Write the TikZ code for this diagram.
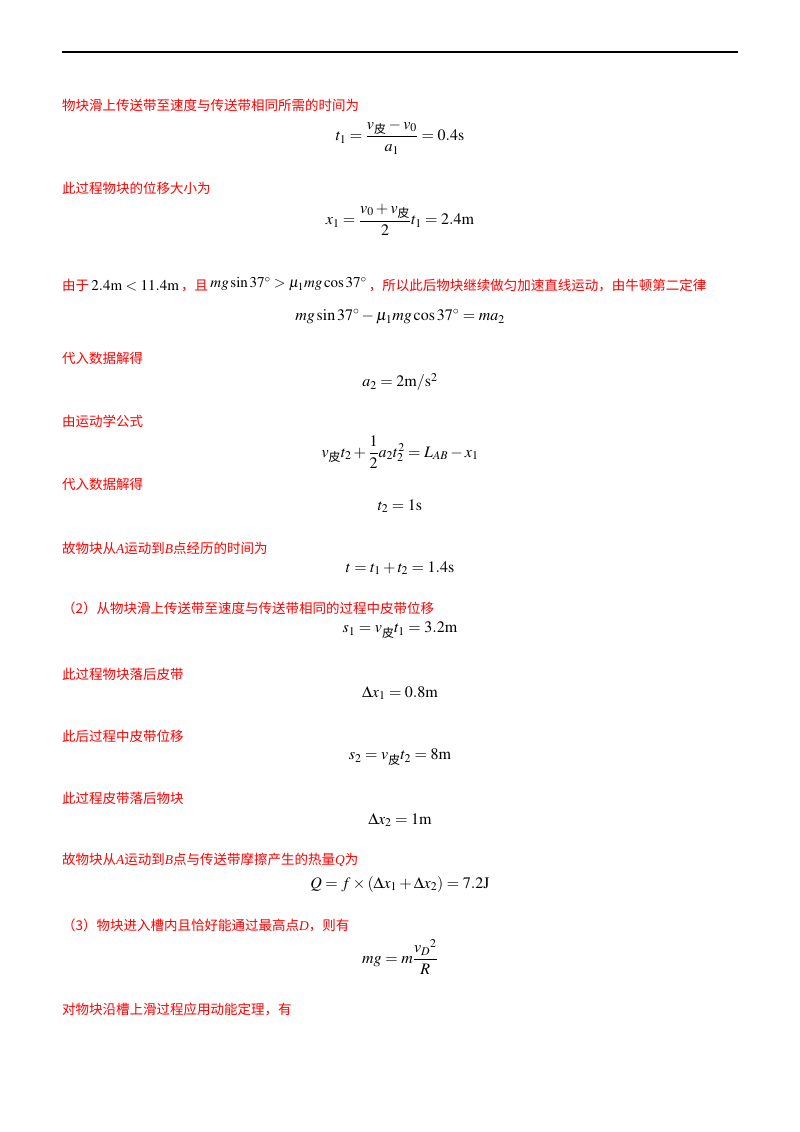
\documentclass[tikz,border=0pt]{standalone}
\usepackage{amsmath}
\usepackage{mathptmx}
\usepackage{fontspec}
\setmainfont{Liberation Serif}
\newfontfamily\cjk{Noto Sans CJK SC}
\newcommand{\pz}{\text{\cjk 皮}}
\tikzset{
 txt/.style={anchor=west,text=red,font=\cjk\fontsize{13.5}{15}\selectfont,inner sep=0},
 eq/.style={anchor=center,font=\fontsize{16}{18}\selectfont,inner sep=0}
}
\begin{document}
\begin{tikzpicture}[x=1pt,y=-1pt]
\useasboundingbox (0,0) rectangle (800,1132);
\draw[line width=1.2pt] (62,52) -- (738,52);
\node[txt] (a) at (62,105) {物块滑上传送带至速度与传送带相同所需的时间为};
\node[eq] (b) at (400,137) {$t_1=\dfrac{v_{\pz}-v_0}{a_1}=0.4\mathrm{s}$};
\node[txt] (c) at (62,188) {此过程物块的位移大小为};
\node[eq] (d) at (400,220) {$x_1=\dfrac{v_0+v_{\pz}}{2}t_1=2.4\mathrm{m}$};
\node[txt] (e) at (62,285) {由于\,\textcolor{black}{\fontsize{15}{18}\selectfont$2.4\mathrm{m}<11.4\mathrm{m}$}\,，且\,\textcolor{black}{\fontsize{15}{18}\selectfont\raisebox{3pt}{$mg\sin37^\circ>\mu_1mg\cos37^\circ$}}\,，所以此后物块继续做匀加速直线运动，由牛顿第二定律};
\node[eq] (f) at (400,317) {$mg\sin37^\circ-\mu_1mg\cos37^\circ=ma_2$};
\node[txt] (g) at (62,358) {代入数据解得};
\node[eq] (h) at (400,382) {$a_2=2\mathrm{m}/\mathrm{s}^2$};
\node[txt] (i) at (62,421) {由运动学公式};
\node[eq] (j) at (400,452) {$v_{\pz}t_2+\dfrac12a_2t_2^2=L_{AB}-x_1$};
\node[txt] (k) at (62,484) {代入数据解得};
\node[eq] (l) at (400,506) {$t_2=1\mathrm{s}$};
\node[txt] (m) at (62,548) {故物块从{\rmfamily\itshape A}运动到{\rmfamily\itshape B}点经历的时间为};
\node[eq] (n) at (400,568) {$t=t_1+t_2=1.4\mathrm{s}$};
\node[txt] (o) at (62,608) {（2）从物块滑上传送带至速度与传送带相同的过程中皮带位移};
\node[eq] (p) at (400,630) {$s_1=v_{\pz}t_1=3.2\mathrm{m}$};
\node[txt] (q) at (62,674) {此过程物块落后皮带};
\node[eq] (r) at (400,693) {$\Delta x_1=0.8\mathrm{m}$};
\node[txt] (s) at (62,736) {此后过程中皮带位移};
\node[eq] (t) at (400,757) {$s_2=v_{\pz}t_2=8\mathrm{m}$};
\node[txt] (u) at (62,798) {此过程皮带落后物块};
\node[eq] (v) at (400,820) {$\Delta x_2=1\mathrm{m}$};
\node[txt] (w) at (62,860) {故物块从{\rmfamily\itshape A}运动到{\rmfamily\itshape B}点与传送带摩擦产生的热量{\rmfamily\itshape Q}为};
\node[eq] (x) at (400,884) {$Q=f\times\left(\Delta x_1+\Delta x_2\right)=7.2\mathrm{J}$};
\node[txt] (y) at (62,925) {（3）物块进入槽内且恰好能通过最高点{\rmfamily\itshape D}，则有};
\node[eq] (z) at (400,957) {$mg=m\dfrac{{v_D}^2}{R}$};
\node[txt] (z2) at (62,1009) {对物块沿槽上滑过程应用动能定理，有};
\end{tikzpicture}
\end{document}
